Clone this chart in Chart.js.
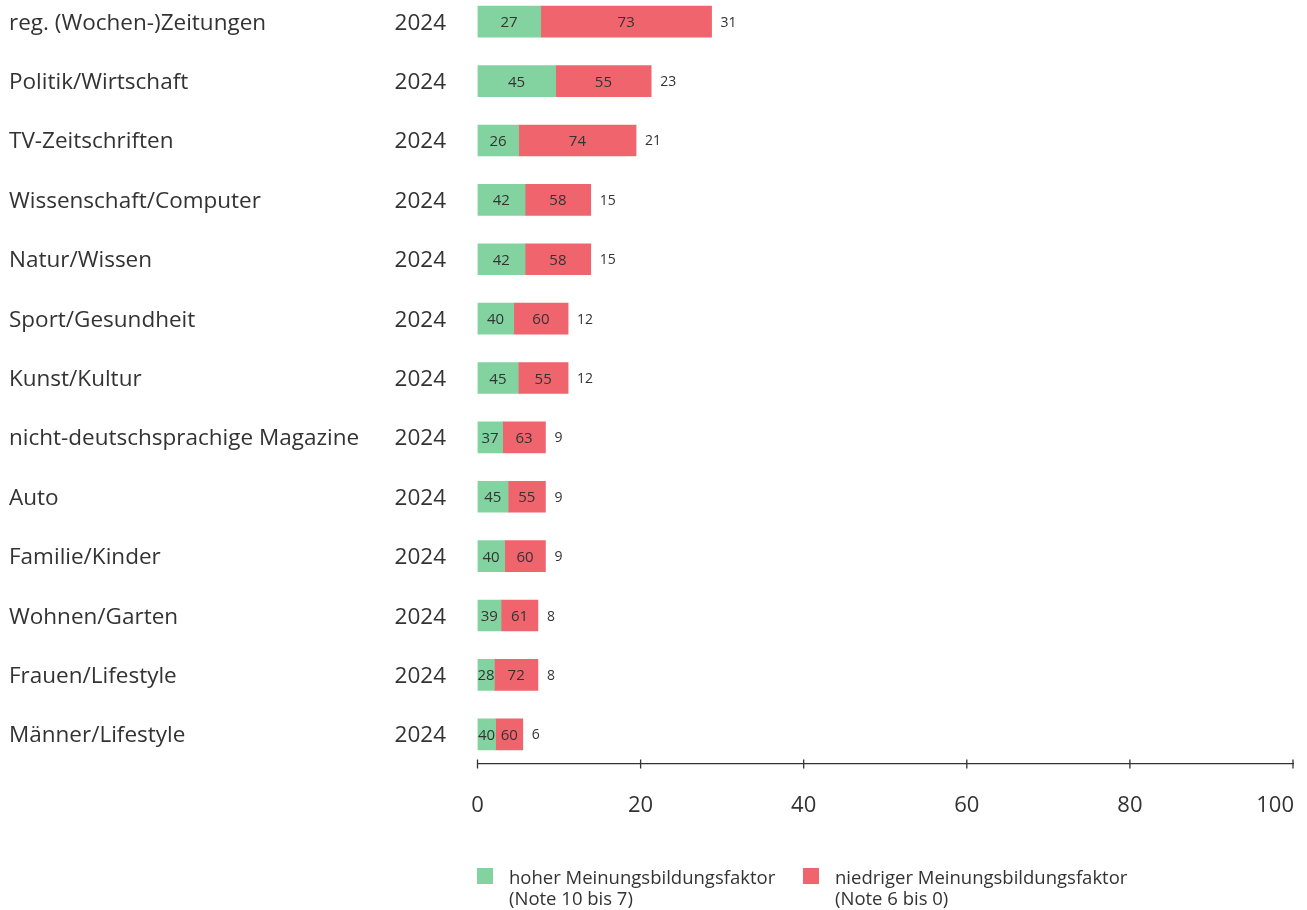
<!DOCTYPE html>
<html>
<head>
<meta charset="utf-8">
<script src="https://cdn.jsdelivr.net/npm/chart.js@4.4.1/dist/chart.umd.min.js"></script>
<style>
  body { margin: 0; background: #fff; font-family: "Open Sans", sans-serif; color: #333; }
  #wrap { position: absolute; left: 0; top: -8px; width: 1307px; height: 920px; }
  .leg { position: absolute; top: 866px; font-size: 18.5px; line-height: 21px; color: #333; }
  .leg .sw { position: absolute; left: -32px; top: 2px; width: 16px; height: 16px; }
</style>
</head>
<body>
<div id="wrap"><canvas id="chart" width="1307" height="920"></canvas></div>
<div class="leg" style="left:509px"><span class="sw" style="background:#82d3a0"></span>hoher Meinungsbildungsfaktor<br>(Note 10 bis 7)</div>
<div class="leg" style="left:835px"><span class="sw" style="background:#f0646e"></span>niedriger Meinungsbildungsfaktor<br>(Note 6 bis 0)</div>
<script>
const categories = ['reg. (Wochen-)Zeitungen', 'Politik/Wirtschaft', 'TV-Zeitschriften', 'Wissenschaft/Computer',
  'Natur/Wissen', 'Sport/Gesundheit', 'Kunst/Kultur', 'nicht-deutschsprachige Magazine', 'Auto',
  'Familie/Kinder', 'Wohnen/Garten', 'Frauen/Lifestyle', 'Männer/Lifestyle']
const years = ['2024', '2024', '2024', '2024', '2024', '2024', '2024', '2024', '2024', '2024', '2024', '2024', '2024']
const totals = [31, 23, 21, 15, 15, 12, 12, 9, 9, 9, 8, 8, 6]
const highPct = [27, 45, 26, 42, 42, 40, 45, 37, 45, 40, 39, 28, 40]
const lowPct = [73, 55, 74, 58, 58, 60, 55, 63, 55, 60, 61, 72, 60]
const axisTicks = [0, 20, 40, 60, 80, 100]

const GREEN = '#82d3a0'
const RED = '#f0646e'
const TEXT = '#333333'
const FONT = '"Open Sans"'

// segment lengths = share of the total
const highVals = totals.map((t, i) => t * highPct[i] / 100)
const lowVals = totals.map((t, i) => t * lowPct[i] / 100)

const labelsPlugin = {
  id: 'labelsPlugin',
  afterDraw(chart) {
    const ctx = chart.ctx
    const y = chart.scales.y
    const x2 = chart.scales.x2
    ctx.save()
    ctx.fillStyle = TEXT

    // row labels + year
    ctx.textBaseline = 'alphabetic'
    categories.forEach((c, i) => {
      const py = y.getPixelForValue(i)
      ctx.font = '22.5px ' + FONT
      ctx.textAlign = 'left'
      ctx.fillText(c, 9, py + 8)
      ctx.font = '22.5px ' + FONT
      ctx.textAlign = 'right'
      ctx.fillText(years[i], 446, py + 8)
    })

    // percentages inside the segments
    const pcts = [highPct, lowPct]
    ctx.font = '15px ' + FONT
    ctx.textAlign = 'center'
    chart.data.datasets.forEach((ds, d) => {
      chart.getDatasetMeta(d).data.forEach((el, i) => {
        ctx.fillText(pcts[d][i], (el.x + el.base) / 2, el.y + 5.5)
      })
    })

    // totals after the bar
    ctx.font = '14px ' + FONT
    ctx.textAlign = 'left'
    chart.getDatasetMeta(1).data.forEach((el, i) => {
      ctx.fillText(totals[i], el.x + 9, el.y + 5)
    })

    // axis tick marks and labels
    const ay = x2.top
    ctx.strokeStyle = TEXT
    ctx.lineWidth = 1.3
    ctx.font = '22px ' + FONT
    x2.ticks.forEach((t, i) => {
      const px = x2.getPixelForValue(t.value)
      ctx.beginPath()
      ctx.moveTo(px, ay - 4.5)
      ctx.lineTo(px, ay + 4.5)
      ctx.stroke()
      const last = i === x2.ticks.length - 1
      ctx.textAlign = last ? 'right' : 'center'
      ctx.fillText(t.value, last ? px + 1 : px, ay + 48)
    })
    ctx.restore()
  }
}

const ctx = document.getElementById('chart').getContext('2d')
const chart = new Chart(ctx, {
  type: 'bar',
  data: {
    labels: categories,
    datasets: [
      { label: 'hoher Meinungsbildungsfaktor', data: highVals, backgroundColor: GREEN, xAxisID: 'x' },
      { label: 'niedriger Meinungsbildungsfaktor', data: lowVals, backgroundColor: RED, xAxisID: 'x' }
    ]
  },
  options: {
    indexAxis: 'y',
    responsive: false,
    animation: false,
    devicePixelRatio: 1,
    barThickness: 31,
    layout: { padding: { left: 477.5, right: 14, top: 0, bottom: 0 } },
    scales: {
      y: { type: 'category', stacked: true, display: false, offset: true },
      x: { stacked: true, display: false, min: 0, max: 108 },
      x2: {
        position: 'bottom',
        min: 0, max: 100,
        afterBuildTicks(s) { s.ticks = axisTicks.map(v => ({ value: v })) },
        ticks: { display: false },
        grid: { display: false },
        border: { display: true, color: TEXT, width: 1.3 },
        afterFit(s) { s.height = 148; s.paddingLeft = 0; s.paddingRight = 0 }
      }
    },
    plugins: { legend: { display: false }, tooltip: { enabled: false } }
  },
  plugins: [labelsPlugin]
})
</script>
</body>
</html>
